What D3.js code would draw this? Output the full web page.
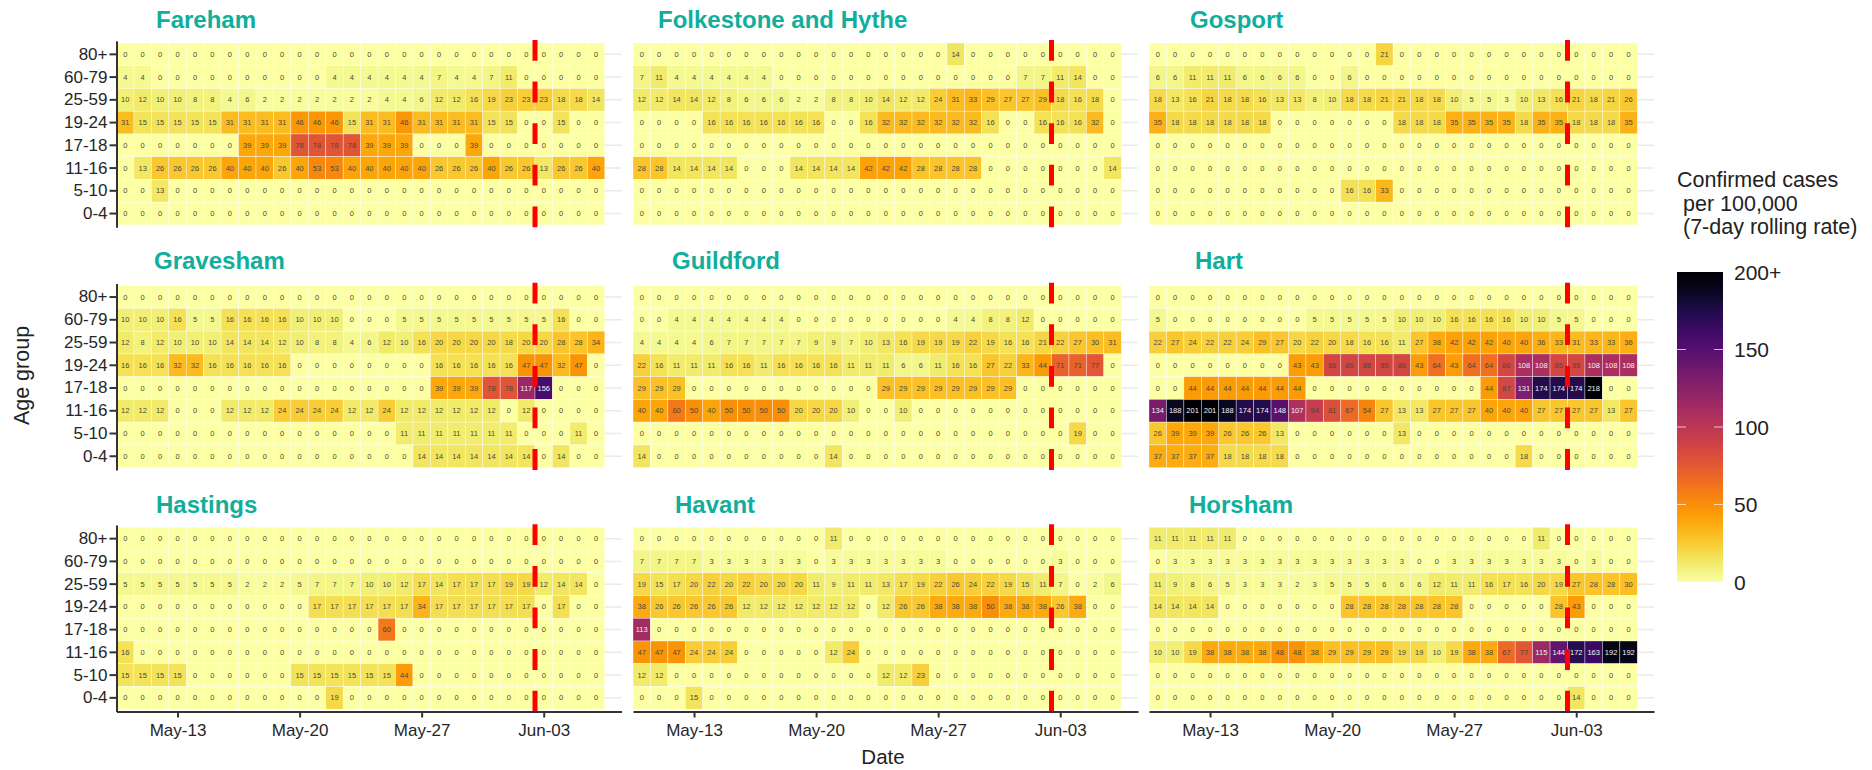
<!DOCTYPE html>
<meta charset="utf-8">
<script src="https://cdn.jsdelivr.net/npm/d3@7"></script>
<style>
  body { margin: 0; background: #fff; }
  text { font-family: "Liberation Sans", Arial, sans-serif; fill: #222; }
  .axis path, .axis line { stroke: #333; stroke-width: 2; }
  .axis text { font-size: 17px; fill: #262626; }
</style>
<body>
<div id="draw"></div>
<script>
  var ageGroups = ["80+", "60-79", "25-59", "19-24", "17-18", "11-16", "5-10", "0-4"];
  var areaNames = ["Fareham", "Folkestone and Hythe", "Gosport", "Gravesham", "Guildford", "Hart", "Hastings", "Havant", "Horsham"];
  var dateTicks = ["2021-05-13", "2021-05-20", "2021-05-27", "2021-06-03"];
  var legendTicks = [0, 50, 100, 150, 200];

  // one row per age group, one value per day from May-10 to Jun-06
  var fareham = [
    [0,0,0,0,0,0,0,0,0,0,0,0,0,0,0,0,0,0,0,0,0,0,0,0,0,0,0,0],
    [4,4,0,0,0,0,0,0,0,0,0,0,4,4,4,4,4,4,7,4,4,7,11,0,0,0,0,0],
    [10,12,10,10,8,8,4,6,2,2,2,2,2,2,2,4,4,6,12,12,16,19,23,23,23,18,18,14],
    [31,15,15,15,15,15,31,31,31,31,46,46,46,15,31,31,46,31,31,31,31,15,15,0,0,15,0,0],
    [0,0,0,0,0,0,0,39,39,39,78,78,78,78,39,39,39,0,0,0,39,0,0,0,0,0,0,0],
    [0,13,26,26,26,26,40,40,40,26,40,53,53,40,40,40,40,40,26,26,26,40,26,26,13,26,26,40],
    [0,0,13,0,0,0,0,0,0,0,0,0,0,0,0,0,0,0,0,0,0,0,0,0,0,0,0,0],
    [0,0,0,0,0,0,0,0,0,0,0,0,0,0,0,0,0,0,0,0,0,0,0,0,0,0,0,0]
  ];
  var folkestone = [
    [0,0,0,0,0,0,0,0,0,0,0,0,0,0,0,0,0,0,14,0,0,0,0,0,0,0,0,0],
    [7,11,4,4,4,4,4,4,0,0,0,0,0,0,0,0,0,0,0,0,0,0,7,7,11,14,0,0],
    [12,12,14,14,12,8,6,6,6,2,2,8,8,10,14,12,12,24,31,33,29,27,27,29,18,16,18,0],
    [0,0,0,0,16,16,16,16,16,16,16,0,0,16,32,32,32,32,32,32,16,0,0,16,16,16,32,0],
    [0,0,0,0,0,0,0,0,0,0,0,0,0,0,0,0,0,0,0,0,0,0,0,0,0,0,0,0],
    [28,28,14,14,14,14,0,0,0,14,14,14,14,42,42,42,28,28,28,28,0,0,0,0,0,0,0,14],
    [0,0,0,0,0,0,0,0,0,0,0,0,0,0,0,0,0,0,0,0,0,0,0,0,0,0,0,0],
    [0,0,0,0,0,0,0,0,0,0,0,0,0,0,0,0,0,0,0,0,0,0,0,0,0,0,0,0]
  ];
  var gosport = [
    [0,0,0,0,0,0,0,0,0,0,0,0,0,21,0,0,0,0,0,0,0,0,0,0,0,0,0,0],
    [6,6,11,11,11,6,6,6,6,0,0,6,0,0,0,0,0,0,0,0,0,0,0,0,0,0,0,0],
    [18,13,16,21,18,18,16,13,13,8,10,18,18,21,21,18,18,10,5,5,3,10,13,16,21,18,21,26],
    [35,18,18,18,18,18,18,0,0,0,0,0,0,0,18,18,18,35,35,35,35,18,35,35,18,18,18,35],
    [0,0,0,0,0,0,0,0,0,0,0,0,0,0,0,0,0,0,0,0,0,0,0,0,0,0,0,0],
    [0,0,0,0,0,0,0,0,0,0,0,0,0,0,0,0,0,0,0,0,0,0,0,0,0,0,0,0],
    [0,0,0,0,0,0,0,0,0,0,0,16,16,33,0,0,0,0,0,0,0,0,0,0,0,0,0,0],
    [0,0,0,0,0,0,0,0,0,0,0,0,0,0,0,0,0,0,0,0,0,0,0,0,0,0,0,0]
  ];
  var gravesham = [
    [0,0,0,0,0,0,0,0,0,0,0,0,0,0,0,0,0,0,0,0,0,0,0,0,0,0,0,0],
    [10,10,10,16,5,5,16,16,16,16,10,10,10,0,0,0,5,5,5,5,5,5,5,5,5,16,0,0],
    [12,8,12,10,10,10,14,14,14,12,10,8,8,4,6,12,10,16,20,20,20,20,18,20,20,28,28,34],
    [16,16,16,32,32,16,16,16,16,16,0,0,0,0,0,0,0,0,16,16,16,16,16,47,47,32,47,0],
    [0,0,0,0,0,0,0,0,0,0,0,0,0,0,0,0,0,0,39,39,39,78,78,117,156,0,0,0],
    [12,12,12,0,0,0,12,12,12,24,24,24,24,12,12,24,12,12,12,12,12,12,0,12,0,0,0,0],
    [0,0,0,0,0,0,0,0,0,0,0,0,0,0,0,0,11,11,11,11,11,11,11,0,0,0,11,0],
    [0,0,0,0,0,0,0,0,0,0,0,0,0,0,0,0,0,14,14,14,14,14,14,14,0,14,0,0]
  ];
  var guildford = [
    [0,0,0,0,0,0,0,0,0,0,0,0,0,0,0,0,0,0,0,0,0,0,0,0,0,0,0,0],
    [0,0,4,4,4,4,4,4,4,0,0,0,0,0,0,0,0,0,4,4,8,8,12,0,0,0,0,0],
    [4,4,4,4,6,7,7,7,7,7,9,9,7,10,13,16,19,19,19,22,19,16,16,21,22,27,30,31],
    [22,16,11,11,11,16,16,11,16,16,16,16,11,11,11,6,6,11,16,16,27,22,33,44,71,71,77,0],
    [29,29,29,0,0,0,0,0,0,0,0,0,0,0,29,29,29,29,29,29,29,29,0,0,0,0,0,0],
    [40,40,60,50,40,50,50,50,50,20,20,20,10,0,0,10,0,0,0,0,0,0,0,0,0,0,0,0],
    [0,0,0,0,0,0,0,0,0,0,0,0,0,0,0,0,0,0,0,0,0,0,0,0,0,19,0,0],
    [14,0,0,0,0,0,0,0,0,0,0,14,0,0,0,0,0,0,0,0,0,0,0,0,0,0,0,0]
  ];
  var hart = [
    [0,0,0,0,0,0,0,0,0,0,0,0,0,0,0,0,0,0,0,0,0,0,0,0,0,0,0,0],
    [5,0,0,0,0,0,0,0,0,5,5,5,5,5,10,10,10,16,16,16,16,10,10,5,5,0,0,0],
    [22,27,24,22,22,24,29,27,20,22,20,18,16,16,11,27,38,42,42,42,40,40,36,33,31,33,33,36],
    [0,0,0,0,0,0,0,0,43,43,86,86,86,86,86,43,64,43,64,64,86,108,108,86,86,108,108,108],
    [0,0,44,44,44,44,44,44,44,0,0,0,0,0,0,0,0,0,0,44,87,131,174,174,174,218,0,0],
    [134,188,201,201,188,174,174,148,107,94,81,67,54,27,13,13,27,27,27,40,40,40,27,27,27,27,13,27],
    [26,39,39,39,26,26,26,13,0,0,0,0,0,0,13,0,0,0,0,0,0,0,0,0,0,0,0,0],
    [37,37,37,37,18,18,18,18,0,0,0,0,0,0,0,0,0,0,0,0,0,18,0,0,0,0,0,0]
  ];
  var hastings = [
    [0,0,0,0,0,0,0,0,0,0,0,0,0,0,0,0,0,0,0,0,0,0,0,0,0,0,0,0],
    [0,0,0,0,0,0,0,0,0,0,0,0,0,0,0,0,0,0,0,0,0,0,0,0,0,0,0,0],
    [5,5,5,5,5,5,5,2,2,2,5,7,7,7,10,10,12,17,14,17,17,17,19,19,12,14,14,0],
    [0,0,0,0,0,0,0,0,0,0,0,17,17,17,17,17,17,34,17,17,17,17,17,17,0,17,0,0],
    [0,0,0,0,0,0,0,0,0,0,0,0,0,0,0,60,0,0,0,0,0,0,0,0,0,0,0,0],
    [16,0,0,0,0,0,0,0,0,0,0,0,0,0,0,0,0,0,0,0,0,0,0,0,0,0,0,0],
    [15,15,15,15,0,0,0,0,0,0,15,15,15,15,15,15,44,0,0,0,0,0,0,0,0,0,0,0],
    [0,0,0,0,0,0,0,0,0,0,0,0,19,0,0,0,0,0,0,0,0,0,0,0,0,0,0,0]
  ];
  var havant = [
    [0,0,0,0,0,0,0,0,0,0,0,11,0,0,0,0,0,0,0,0,0,0,0,0,0,0,0,0],
    [7,7,7,7,3,3,3,3,3,3,0,3,3,3,3,3,3,3,0,0,0,0,0,0,3,0,0,0],
    [19,15,17,20,22,20,22,20,20,20,11,9,11,11,13,17,19,22,26,24,22,19,15,11,7,0,2,6],
    [38,26,26,26,26,26,12,12,12,12,12,12,12,0,12,26,26,38,38,38,50,38,38,38,26,38,0,0],
    [113,0,0,0,0,0,0,0,0,0,0,0,0,0,0,0,0,0,0,0,0,0,0,0,0,0,0,0],
    [47,47,47,24,24,24,0,0,0,0,0,12,24,0,0,0,0,0,0,0,0,0,0,0,0,0,0,0],
    [12,12,0,0,0,0,0,0,0,0,0,0,0,0,12,12,23,0,0,0,0,0,0,0,0,0,0,0],
    [0,0,0,15,0,0,0,0,0,0,0,0,0,0,0,0,0,0,0,0,0,0,0,0,0,0,0,0]
  ];
  var horsham = [
    [11,11,11,11,11,0,0,0,0,0,0,0,0,0,0,0,0,0,0,0,0,0,11,0,0,0,0,0],
    [0,3,3,3,3,3,3,3,3,3,3,3,3,3,3,0,0,3,3,3,3,3,3,3,0,3,0,0],
    [11,9,8,6,5,3,3,3,2,3,5,5,5,6,6,6,12,11,11,16,17,16,20,19,27,28,28,30],
    [14,14,14,14,0,0,0,0,0,0,0,28,28,28,28,28,28,28,0,0,0,0,0,28,43,0,0,0],
    [0,0,0,0,0,0,0,0,0,0,0,0,0,0,0,0,0,0,0,0,0,0,0,0,0,0,0,0],
    [10,10,19,38,38,38,38,48,48,38,29,29,29,29,19,19,10,19,38,38,67,77,115,144,172,163,192,192],
    [0,0,0,0,0,0,0,0,0,0,0,0,0,0,0,0,0,0,0,0,0,0,0,0,0,0,0,0],
    [0,0,0,0,0,0,0,0,0,0,0,0,0,0,0,0,0,0,0,0,0,0,0,0,14,0,0,0]
  ];
  var areaRates = [fareham, folkestone, gosport, gravesham, guildford, hart, hastings, havant, horsham];

  var width = 1872;
  var height = 770;
  var panelLeft = [116.5, 633, 1149];
  var panelTop = [40.7, 283.4, 525];
  var panelWidth = 505;
  var panelHeight = 186.5;
  // area names sit by hand in the original, so they do not line up with the panels
  var titleX = [156, 658, 1190, 154, 672, 1195, 156, 675, 1189];
  var titleY = [28, 269, 512.7];

  var day = 864e5;
  var firstDay = Date.UTC(2021, 4, 10);
  var days = d3.utcDay.range(new Date(firstDay), new Date(Date.UTC(2021, 5, 7)));
  var markDate = new Date(Date.UTC(2021, 5, 2, 12));

  var colour = d3.scaleSequential(function(t) { return d3.interpolateInferno(1 - t); })
    .domain([0, 200]).clamp(true);

  var svg = d3.select("#draw").append("svg")
    .attr("width", width).attr("height", height)
    .style("display", "block");

  var defs = svg.append("defs");
  areaNames.forEach(function(name, a) {
    var col = a % 3;
    var row = Math.floor(a / 3);
    var left = panelLeft[col];
    var top = panelTop[row];

    var x = d3.scaleUtc()
      .domain([new Date(firstDay - day / 2), new Date(firstDay + 28.46 * day)])
      .range([left, left + panelWidth]);
    var y = d3.scaleBand().domain(ageGroups)
      .range([top, top + panelHeight])
      .paddingInner(0).paddingOuter(0.1);
    var cellW = x(new Date(firstDay + day)) - x(new Date(firstDay));

    var panel = svg.append("g").attr("class", "panel");

    panel.selectAll(".grid").data(ageGroups).enter().append("line")
      .attr("x1", left).attr("x2", left + panelWidth)
      .attr("y1", function(d) { return y(d) + y.bandwidth() / 2; })
      .attr("y2", function(d) { return y(d) + y.bandwidth() / 2; })
      .style("stroke", "#ebebe1").style("stroke-width", 1.5);

    var cells = [];
    areaRates[a].forEach(function(values, r) {
      values.forEach(function(v, i) {
        cells.push({age: ageGroups[r], date: days[i], value: v});
      });
    });

    panel.selectAll("rect").data(cells).enter().append("rect")
      .attr("x", function(d) { return x(d.date) - cellW / 2; })
      .attr("y", function(d) { return y(d.age); })
      .attr("width", cellW)
      .attr("height", y.bandwidth())
      .style("fill", function(d) { return colour(d.value); })
      .style("stroke", "#fff").style("stroke-width", 0.6).style("stroke-opacity", 0.6);

    panel.selectAll(".val").data(cells).enter().append("text")
      .attr("class", "val")
      .attr("x", function(d) { return x(d.date); })
      .attr("y", function(d) { return y(d.age) + y.bandwidth() / 2 + 2.6; })
      .attr("text-anchor", "middle")
      .style("font-size", "7.5px")
      .style("fill", function(d) { return d.value >= 100 ? "#f4f0f4" : "#4a4a3a"; })
      .text(function(d) { return d.value; });

    // dashed marker line, drawn over the cells
    panel.append("line")
      .attr("x1", x(markDate)).attr("x2", x(markDate))
      .attr("y1", top - 0.7).attr("y2", top + panelHeight + 1)
      .style("stroke", "#ff0000").style("stroke-width", 5)
      .style("stroke-dasharray", "20.8 20.8");

    svg.append("text")
      .attr("x", titleX[a]).attr("y", titleY[row])
      .style("font-size", "24px").style("font-weight", "bold")
      .style("fill", "#10ae9b")
      .text(name);

    if (col == 0) {
      svg.append("g").attr("class", "axis")
        .attr("transform", "translate(" + left + ",0)")
        .call(d3.axisLeft(y).tickSize(7).tickSizeOuter(0).tickPadding(2));
    }
    if (row == 2) {
      svg.append("g").attr("class", "axis")
        .attr("transform", "translate(0," + (top + panelHeight) + ")")
        .call(d3.axisBottom(x).tickSize(6).tickSizeOuter(0).tickPadding(6)
          .tickValues(dateTicks.map(function(d) { return new Date(d); }))
          .tickFormat(d3.utcFormat("%b-%d")));
    }
  });

  svg.append("text")
    .attr("x", 883).attr("y", 764)
    .attr("text-anchor", "middle")
    .style("font-size", "20.5px")
    .text("Date");

  svg.append("text")
    .attr("transform", "translate(29,375.5) rotate(-90)")
    .attr("text-anchor", "middle")
    .style("font-size", "21.5px")
    .text("Age group");

  // colour bar legend
  var legendX = 1677;
  var legendW = 46;
  var legendY = d3.scaleLinear().domain([0, 200]).range([582, 272]);

  var gradient = defs.append("linearGradient")
    .attr("id", "bar").attr("x1", 0).attr("x2", 0).attr("y1", 1).attr("y2", 0);
  gradient.selectAll("stop").data(d3.range(0, 21)).enter().append("stop")
    .attr("offset", function(d) { return d / 20; })
    .attr("stop-color", function(d) { return colour(d * 10); });

  svg.append("rect")
    .attr("x", legendX).attr("y", legendY(200))
    .attr("width", legendW).attr("height", legendY(0) - legendY(200))
    .style("fill", "url(#bar)");

  [legendX, legendX + legendW - 9].forEach(function(start) {
    svg.selectAll(null).data(legendTicks.slice(1, 4)).enter().append("line")
      .attr("x1", start).attr("x2", start + 9)
      .attr("y1", function(d) { return legendY(d); })
      .attr("y2", function(d) { return legendY(d); })
      .style("stroke", "#fff").style("stroke-opacity", 0.7).style("stroke-width", 1);
  });

  svg.selectAll(".legendLabel").data(legendTicks).enter().append("text")
    .attr("class", "legendLabel")
    .attr("x", legendX + legendW + 11)
    .attr("y", function(d) { return legendY(d) + 7.5; })
    .style("font-size", "21px")
    .text(function(d) { return d == 200 ? "200+" : d; });

  var legendTitle = [["Confirmed cases", 1677, 187], ["per 100,000", 1683, 211], ["(7-day rolling rate)", 1683, 234]];
  svg.selectAll(".legendTitle").data(legendTitle).enter().append("text")
    .attr("class", "legendTitle")
    .attr("x", function(d) { return d[1]; })
    .attr("y", function(d) { return d[2]; })
    .style("font-size", "21.5px")
    .text(function(d) { return d[0]; });
</script>
</body>
